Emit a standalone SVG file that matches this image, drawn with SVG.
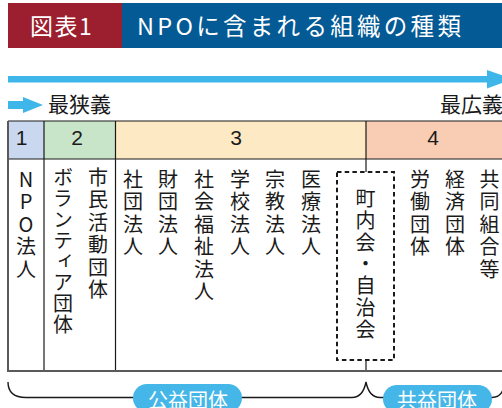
<svg xmlns="http://www.w3.org/2000/svg" width="502" height="408" viewBox="0 0 502 408">
<style>
.jp{font-family:"Noto Sans CJK JP","Noto Sans",sans-serif;}
.vt{font-family:"Noto Sans CJK JP","Noto Sans",sans-serif;font-size:20px;fill:#1a1a1a;writing-mode:vertical-rl;text-orientation:upright;letter-spacing:2.5px;}
.num{font-family:"Liberation Sans",Arial,sans-serif;font-size:21px;fill:#1a1a1a;text-anchor:middle;}
.grid{stroke:#1a1a1a;stroke-width:1.2;fill:none;}
.border{stroke:#5a5a5a;stroke-width:2;fill:none;}
.pill{fill:#45b6e8;}
.pilltxt{font-family:"Noto Sans CJK JP","Noto Sans",sans-serif;font-size:20px;fill:#ffffff;text-anchor:middle;}
.blue{fill:#3fb6ea;}
</style>

<g id="title">
  <rect x="8" y="3" width="114" height="45" fill="#9b1f2e"/>
  <rect x="122" y="3" width="380" height="45" fill="#035a95"/>
  <text class="jp" x="30" y="34.5" font-size="23" fill="#ffffff" letter-spacing="1.5">図表1</text>
  <text class="jp" x="137" y="34.5" font-size="23.5" fill="#ffffff" letter-spacing="3.3">NPOに含まれる組織の種類</text>
</g>

<g id="scale-arrow">
  <rect class="blue" x="8" y="76" width="482" height="6.5"/>
  <polygon class="blue" points="487,70 513,79.2 487,88.4"/>
  <rect class="blue" x="8" y="101" width="16" height="8"/>
  <polygon class="blue" points="23,97 43,105 23,113"/>
  <text class="jp" x="48" y="112" font-size="21" fill="#1a1a1a">最狭義</text>
  <text class="jp" x="440" y="112" font-size="21" fill="#1a1a1a">最広義</text>
</g>

<g id="header">
  <rect x="8" y="121" width="36" height="38" fill="#c9d8ee"/>
  <rect x="44" y="121" width="71.5" height="38" fill="#c8e4c9"/>
  <rect x="115.5" y="121" width="250.5" height="38" fill="#fde9c3"/>
  <rect x="366" y="121" width="136" height="38" fill="#f8cdb4"/>
  <text class="num" x="21.5" y="145">1</text>
  <text class="num" x="77" y="145">2</text>
  <text class="num" x="236" y="145">3</text>
  <text class="num" x="433" y="145">4</text>
</g>

<g id="table-lines">
  <line class="grid" x1="8" y1="121" x2="502" y2="121"/>
  <line class="grid" x1="8" y1="159" x2="502" y2="159"/>
  <line class="grid" x1="44" y1="121" x2="44" y2="371"/>
  <line class="grid" x1="115.5" y1="121" x2="115.5" y2="371"/>
  <line class="grid" x1="366" y1="121" x2="366" y2="172"/>
  <line class="grid" x1="366" y1="361" x2="366" y2="371"/>
  <line class="border" x1="8" y1="121" x2="8" y2="371"/>
  <line class="border" x1="7" y1="371" x2="502" y2="371"/>
</g>

<g id="col1">
  <text class="vt" x="26" y="169">NPO法人</text>
</g>
<g id="col2">
  <text class="vt" x="63" y="167" style="letter-spacing:1px">ボランティア団体</text>
  <text class="vt" x="98" y="167">市民活動団体</text>
</g>
<g id="col3">
  <text class="vt" x="133" y="169">社団法人</text>
  <text class="vt" x="168" y="169">財団法人</text>
  <text class="vt" x="204" y="169">社会福祉法人</text>
  <text class="vt" x="240" y="169">学校法人</text>
  <text class="vt" x="275" y="169">宗教法人</text>
  <text class="vt" x="311" y="169">医療法人</text>
</g>
<g id="chonaikai">
  <rect x="337" y="172" width="57" height="188" fill="none" stroke="#1a1a1a" stroke-width="2" stroke-dasharray="4.5 3.2"/>
  <text class="vt" x="365.5" y="188.5" style="letter-spacing:1.8px">町内会・自治会</text>
</g>
<g id="col4">
  <text class="vt" x="420" y="169">労働団体</text>
  <text class="vt" x="455" y="169">経済団体</text>
  <text class="vt" x="489.5" y="169">共同組合等</text>
</g>

<g id="connectors">
  <path d="M8,382 C8,392 14,397.5 26,397.5 H352 C360,397.5 364,392 366,382 C368,392 372,397.5 380,397.5 H492 C498,397.5 501,395 503,390" fill="none" stroke="#1a1a1a" stroke-width="1.4"/>
</g>

<g id="koeki">
  <rect class="pill" x="133" y="384" width="109" height="28" rx="14"/>
  <text class="pilltxt" x="188" y="408">公益団体</text>
</g>
<g id="kyoeki">
  <rect class="pill" x="383" y="385" width="109" height="28" rx="14"/>
  <text class="pilltxt" x="437" y="408">共益団体</text>
</g>
</svg>
